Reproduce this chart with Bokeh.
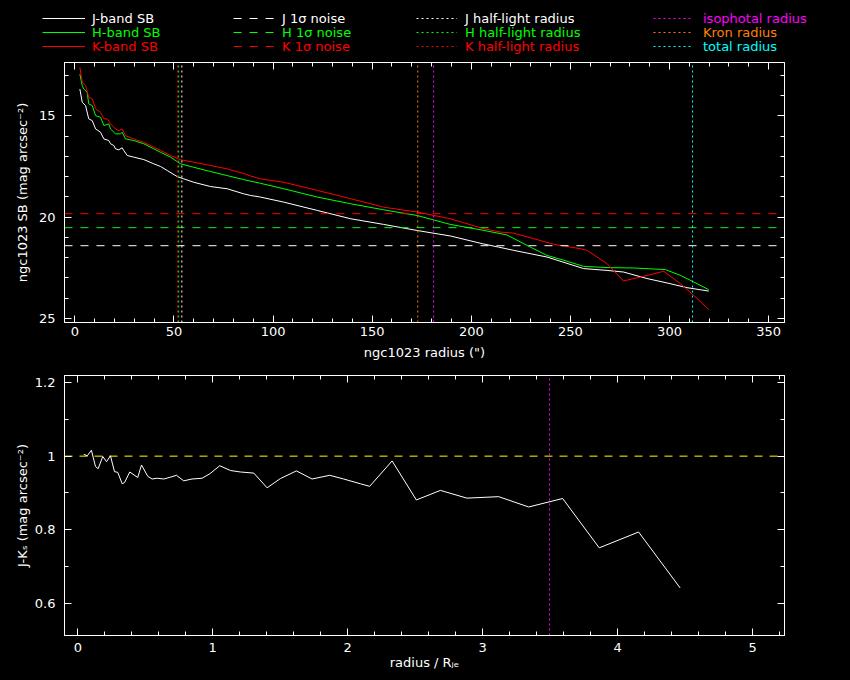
from bokeh.plotting import figure
from bokeh.models import (Range1d, LinearAxis, SingleIntervalTicker,
                          CustomJSTickFormatter, Legend, LegendItem)
from bokeh.layouts import column
from bokeh.embed import file_html
from bokeh.resources import INLINE

# ---------------- data ----------------
j_r = [2.55, 3.74, 5.43, 7.02, 8.80, 10.49, 12.97, 14.65, 17.13, 18.03, 19.71, 20.51,
       22.19, 23.88, 24.67, 26.46, 29.73, 34.79, 39.85, 43.22, 46.60, 51.66, 54.93,
       59.99, 68.42, 76.85, 85.19, 88.66, 93.6, 105.4, 122.3, 139.1, 155.8, 172.7,
       189.4, 205.5, 213.8, 221.4, 238.2, 256.7, 268.5, 276.8, 288.6, 298.8, 308.8, 319.8]
j_sb = [13.68, 14.33, 14.50, 15.15, 15.24, 15.65, 15.81, 16.14, 16.22, 16.38, 16.47, 16.63,
        16.68, 16.58, 16.71, 16.96, 17.04, 17.16, 17.37, 17.50, 17.70, 18.00, 18.11,
        18.28, 18.49, 18.60, 18.85, 18.93, 19.01, 19.26, 19.67, 20.08, 20.36, 20.66,
        20.93, 21.31, 21.48, 21.64, 21.97, 22.54, 22.63, 22.71, 23.03, 23.25, 23.48, 23.65]

h_r = [2.55, 3.74, 4.54, 6.22, 7.02, 8.80, 10.49, 12.97, 14.65, 17.13, 18.03, 20.51,
       23.09, 23.88, 25.57, 29.73, 34.79, 39.85, 43.22, 48.28, 53.34, 59.99, 68.42,
       76.85, 85.19, 93.6, 105.4, 122.3, 139.1, 155.8, 172.7, 189.4, 205.5, 218.0,
       229.8, 238.2, 246.7, 256.7, 268.5, 281.9, 297.9, 305.4, 312.2, 319.8]
h_sb = [12.94, 13.51, 13.68, 13.84, 14.41, 14.50, 14.99, 15.07, 15.48, 15.40, 15.65, 15.89,
        15.89, 15.81, 16.14, 16.22, 16.38, 16.63, 16.80, 17.04, 17.37, 17.54, 17.75,
        17.95, 18.15, 18.33, 18.60, 19.01, 19.34, 19.64, 19.92, 20.36, 20.64, 20.88,
        21.48, 21.89, 22.13, 22.43, 22.49, 22.51, 22.59, 22.87, 23.20, 23.58]

k_r = [2.55, 3.74, 5.43, 7.02, 8.80, 10.49, 12.97, 14.65, 16.34, 18.03, 20.51, 22.19,
       23.88, 25.57, 29.73, 34.79, 39.85, 43.22, 48.28, 53.34, 59.99, 68.42, 76.85,
       85.19, 88.66, 93.6, 105.4, 122.3, 139.1, 155.8, 172.7, 189.4, 205.5, 214.7,
       221.4, 241.6, 255.1, 258.5, 268.5, 276.8, 285.3, 297.1, 305.4, 312.2, 319.8]
k_sb = [12.61, 13.35, 13.51, 14.09, 14.17, 14.66, 14.83, 15.15, 15.15, 15.40, 15.65, 15.73,
        15.65, 15.98, 16.14, 16.31, 16.55, 16.71, 16.96, 17.17, 17.29, 17.45, 17.62,
        17.85, 17.97, 18.11, 18.28, 18.68, 19.09, 19.51, 19.75, 20.08, 20.55, 20.74,
        20.79, 21.34, 21.56, 21.64, 22.30, 23.15, 22.96, 22.67, 23.28, 23.86, 24.56]

noise_sb = [21.41, 20.52, 19.83]          # J, H, K 1-sigma noise
halflight_r = [54.0, 52.4, 51.9]          # J, H, K half-light radius
iso_r = 181.0
kron_r = 173.0
total_r = 311.6

jk_x = [0.044, 0.070, 0.101, 0.131, 0.151, 0.185, 0.213, 0.242, 0.272, 0.296, 0.329,
        0.346, 0.385, 0.444, 0.472, 0.519, 0.551, 0.588, 0.637, 0.687, 0.731, 0.785,
        0.847, 0.921, 0.978, 1.052, 1.131, 1.205, 1.304, 1.403, 1.501, 1.620, 1.736,
        1.867, 1.970, 2.094, 2.163, 2.329, 2.509, 2.687, 2.884, 3.119, 3.341, 3.593,
        3.864, 4.156, 4.464]
jk_col = [1.005, 1.001, 1.016, 0.972, 0.966, 0.999, 0.985, 1.001, 0.958, 0.956, 0.925,
          0.928, 0.957, 0.942, 0.976, 0.945, 0.938, 0.940, 0.938, 0.943, 0.948, 0.933,
          0.938, 0.940, 0.952, 0.974, 0.961, 0.957, 0.954, 0.914, 0.939, 0.960, 0.938,
          0.948, 0.938, 0.925, 0.918, 0.987, 0.881, 0.907, 0.886, 0.890, 0.862, 0.885,
          0.751, 0.794, 0.642]
jk_ref = 1.0
iso_ratio = 3.496

legend_labels = ["J-band SB", "H-band SB", "K-band SB",
                 "J 1\u03c3 noise", "H 1\u03c3 noise", "K 1\u03c3 noise",
                 "J half-light radius", "H half-light radius", "K half-light radius",
                 "isophotal radius", "Kron radius", "total radius"]

# ---------------- styling ----------------
WHITE, GREEN, RED = "#ffffff", "#00ff00", "#ff0000"
MAGENTA, ORANGE, CYAN, YELLOW = "#ff00ff", "#ff8000", "#00ffff", "#ffff00"
band_colors = [WHITE, GREEN, RED]
FONT = "DejaVu Sans"
FS = "13px"
DOT = "2 3"
DASH = "8 8"
NAN = float("nan")

XR = (-5.2, 358.0)
YR = (25.2, 12.37)
XB = (-0.0985, 5.237)
YB = (0.513, 1.219)


def style(p, xtick, ytick, yfmt=None):
    p.background_fill_color = "black"
    p.border_fill_color = "black"
    p.outline_line_color = WHITE
    p.xgrid.visible = False
    p.ygrid.visible = False
    bx = p.below[0]
    ly = p.left[0]
    bx.ticker = xtick
    ly.ticker = ytick
    if yfmt is not None:
        ly.formatter = yfmt
    for ax in (bx, ly):
        ax.axis_line_color = WHITE
        ax.major_tick_line_color = WHITE
        ax.minor_tick_line_color = WHITE
        ax.major_tick_in = 7
        ax.major_tick_out = 0
        ax.minor_tick_in = 4
        ax.minor_tick_out = 0
        ax.major_label_text_color = WHITE
        ax.major_label_text_font = FONT
        ax.major_label_text_font_size = FS
        ax.axis_label_text_color = WHITE
        ax.axis_label_text_font = FONT
        ax.axis_label_text_font_size = FS
        ax.axis_label_text_font_style = "normal"
    blank = CustomJSTickFormatter(code="return ''")
    for loc, tick in (("above", xtick), ("right", ytick)):
        ax = LinearAxis(ticker=tick, formatter=blank, axis_line_color=WHITE,
                        major_tick_line_color=WHITE, minor_tick_line_color=WHITE,
                        major_tick_in=7, major_tick_out=0, minor_tick_in=4, minor_tick_out=0,
                        major_label_standoff=0, major_label_text_font_size="1px")
        p.add_layout(ax, loc)
    return bx, ly


# ---------------- legend strip ----------------
p0 = figure(width=850, height=55, frame_width=850, frame_height=55,
            x_range=Range1d(0, 1), y_range=Range1d(0, 1),
            min_border=0, x_axis_location=None, y_axis_location=None,
            output_backend="svg", toolbar_location=None)
p0.background_fill_color = "black"
p0.border_fill_color = "black"
p0.outline_line_color = None
p0.xgrid.visible = False
p0.ygrid.visible = False

key_colors = band_colors * 3 + [MAGENTA, ORANGE, CYAN]
key_dashes = ["solid"] * 3 + [DASH] * 3 + [DOT] * 6
col_x = [42, 233, 416, 653]
col_gw = [43, 44, 41, 40]
col_so = [7, 5, 8, 10]
row_y = [29, 15, 1]
for i, (lab, c, d) in enumerate(zip(legend_labels, key_colors, key_dashes)):
    key = p0.line(x=[NAN], y=[NAN], line_color=c, line_width=1, line_dash=d)
    col, row = divmod(i, 3)
    leg = Legend(items=[LegendItem(label=lab, renderers=[key])],
                 location=(col_x[col], row_y[row]), orientation="vertical",
                 padding=0, margin=0, spacing=0,
                 glyph_width=col_gw[col], glyph_height=16, label_height=16,
                 label_standoff=col_so[col], label_text_color=c,
                 label_text_font=FONT, label_text_font_size=FS,
                 border_line_color=None, background_fill_alpha=0)
    p0.add_layout(leg, "center")

# ---------------- top panel ----------------
p1 = figure(width=850, height=313, frame_width=720, frame_height=260,
            x_range=Range1d(*XR), y_range=Range1d(*YR),
            min_border_left=64, min_border_right=66, min_border_top=7, min_border_bottom=46,
            output_backend="svg", toolbar_location=None)
bx1, ly1 = style(p1, SingleIntervalTicker(interval=50, num_minor_ticks=5),
                 SingleIntervalTicker(interval=5, num_minor_ticks=5))
bx1.axis_label = 'ngc1023 radius (")'
ly1.axis_label = "ngc1023 SB (mag arcsec\u207b\u00b2)"
bx1.major_label_standoff = 4
bx1.axis_label_standoff = 6
ly1.major_label_standoff = 9
ly1.axis_label_standoff = 6

for xs, ys, c in ((j_r, j_sb, WHITE), (h_r, h_sb, GREEN), (k_r, k_sb, RED)):
    p1.line(xs, ys, line_color=c, line_width=1)

for lvl, c in zip(noise_sb, band_colors):
    p1.segment(x0=XR[0], y0=lvl, x1=XR[1], y1=lvl,
               line_color=c, line_width=1, line_dash=DASH)

for rad, c in zip(halflight_r, band_colors):
    p1.segment(x0=rad, y0=YR[0], x1=rad, y1=YR[1],
               line_color=c, line_width=1, line_dash=DOT)

for rad, c in ((iso_r, MAGENTA), (kron_r, ORANGE), (total_r, CYAN)):
    p1.segment(x0=rad, y0=YR[0], x1=rad, y1=YR[1],
               line_color=c, line_width=1, line_dash=DOT)

# ---------------- bottom panel ----------------
p2 = figure(width=850, height=312, frame_width=720, frame_height=260,
            x_range=Range1d(*XB), y_range=Range1d(*YB),
            min_border_left=64, min_border_right=66, min_border_top=7, min_border_bottom=45,
            output_backend="svg", toolbar_location=None)
bx2, ly2 = style(p2, SingleIntervalTicker(interval=1, num_minor_ticks=5),
                 SingleIntervalTicker(interval=0.2, num_minor_ticks=2),
                 yfmt=CustomJSTickFormatter(code="return String(Math.round(tick*10)/10)"))
bx2.axis_label = "radius / R\u2c7c\u2091"
ly2.axis_label = "J-K\u209b (mag arcsec\u207b\u00b2)"
bx2.major_label_standoff = 7
bx2.axis_label_standoff = 0
ly2.major_label_standoff = 9
ly2.axis_label_standoff = 2

p2.segment(x0=XB[0], y0=jk_ref, x1=XB[1], y1=jk_ref, line_color=YELLOW,
           line_width=1, line_dash="8 7")
p2.segment(x0=iso_ratio, y0=YB[0], x1=iso_ratio, y1=YB[1], line_color=MAGENTA,
           line_width=1, line_dash=DOT)
p2.line(jk_x, jk_col, line_color=WHITE, line_width=1)

layout = column(p0, p1, p2, spacing=0,
                styles={"background-color": "black", "box-shadow": "0 0 0 40px black"})
open("out.html", "w").write(file_html(layout, INLINE))
